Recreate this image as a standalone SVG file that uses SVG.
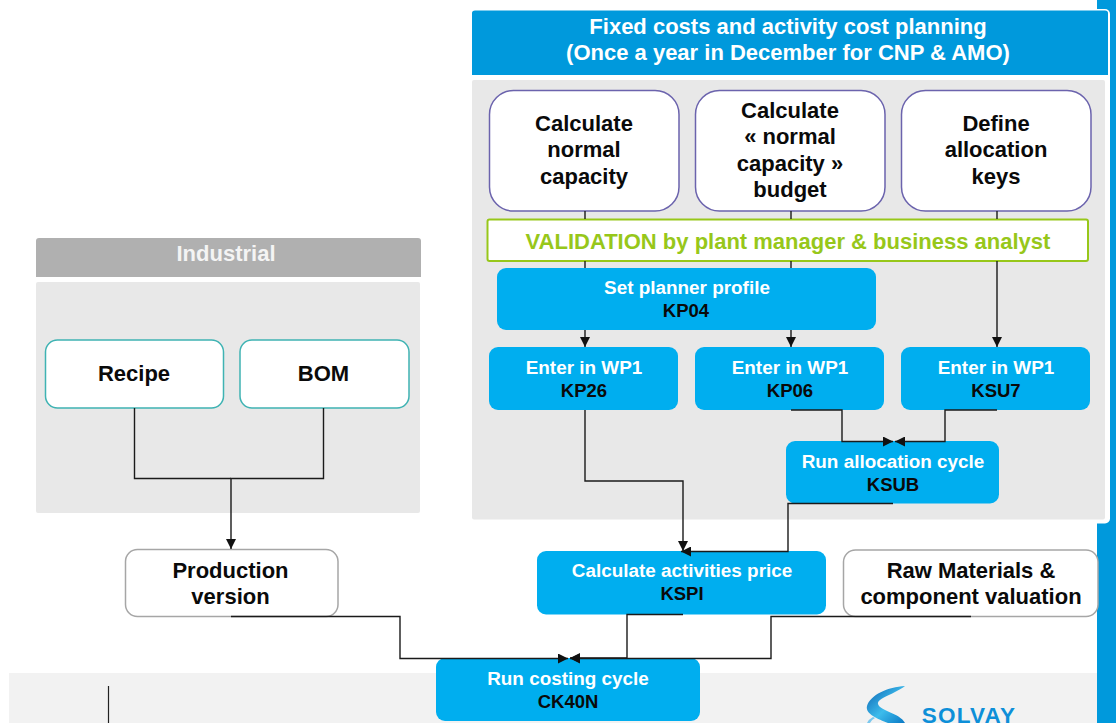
<svg xmlns="http://www.w3.org/2000/svg" width="1116" height="723" viewBox="0 0 1116 723">
<style>
text{font-family:"Liberation Sans",Arial,sans-serif;font-weight:700;text-anchor:middle}
.k{fill:#0a0a0a;font-size:22px}
.h{font-size:22px}
.w{fill:#fff;font-size:18.900px}
.c{fill:#0a0a0a;font-size:18.500px}
.b{fill:#00aeef}
.wb{fill:#fff;stroke:#6b63ad;stroke-width:1.500}
.tb{fill:#fff;stroke:#3fb3b3;stroke-width:1.500}
.gb{fill:#fff;stroke:#a6a6a6;stroke-width:1.500}
.con{fill:none;stroke:#1a1a1a;stroke-width:1.400}
</style>
<defs>
<marker id="a" markerWidth="11" markerHeight="10" refX="10" refY="5" orient="auto" markerUnits="userSpaceOnUse"><path d="M0 0L10 5L0 10Z" fill="#111"/></marker>
<linearGradient id="sw" x1="0" y1="0" x2="1" y2="1"><stop offset="0" stop-color="#0a5fb0"/><stop offset=".55" stop-color="#3dbcec"/><stop offset="1" stop-color="#0a78c4"/></linearGradient>
</defs>
<rect x="1097" y="0" width="19" height="723" fill="#0099dc"/>
<rect x="9" y="673" width="1088" height="50" fill="#f2f2f2"/>
<path d="M108.500 686V723" stroke="#222" stroke-width="1.200" fill="none"/>
<g id="panel-fixed">
<rect x="470" y="9" width="640" height="514.500" rx="5" fill="#fff"/>
<rect x="472" y="80" width="633" height="439.500" rx="2" fill="#e8e8e8"/>
<path d="M472 75V13Q472 10.500 475 10.500H1105Q1108 10.500 1108 13V75Z" fill="#0099dc"/>
<text class="h" x="788" y="34" fill="#fff">Fixed costs and activity cost planning</text>
<text class="h" x="788" y="60" fill="#fff">(Once a year in December for CNP &amp; AMO)</text>
</g>
<g id="panel-industrial">
<rect x="36" y="282" width="384" height="231" rx="2" fill="#e8e8e8"/>
<path d="M36 277V241Q36 238 39 238H418Q421 238 421 241V277Z" fill="#b0b0b0"/>
<text class="h" x="226" y="261" fill="#f4f4f4">Industrial</text>
</g>
<g id="n-capacity"><rect class="wb" x="489.500" y="90.500" width="189.500" height="120.500" rx="24"/><text class="k" x="584" y="131">Calculate</text><text class="k" x="584" y="157">normal</text><text class="k" x="584" y="184">capacity</text></g>
<g id="n-budget"><rect class="wb" x="695.500" y="90.500" width="189.500" height="120.500" rx="24"/><text class="k" x="790" y="118">Calculate</text><text class="k" x="790" y="144">« normal</text><text class="k" x="790" y="171">capacity »</text><text class="k" x="790" y="197">budget</text></g>
<g id="n-keys"><rect class="wb" x="901.500" y="90.500" width="189.500" height="120.500" rx="24"/><text class="k" x="996" y="131">Define</text><text class="k" x="996" y="157">allocation</text><text class="k" x="996" y="184">keys</text></g>
<g id="n-validation"><rect x="487.500" y="219.500" width="600.500" height="41.500" rx="2" fill="#fff" stroke="#97c71a" stroke-width="2"/><text class="h" x="788" y="249" fill="#97c71a">VALIDATION by plant manager &amp; business analyst</text></g>
<g id="n-kp04"><rect class="b" x="497" y="268" width="379" height="62" rx="9"/><text class="w" x="687" y="294">Set planner profile</text><text class="c" x="686" y="317">KP04</text></g>
<g id="n-kp26"><rect class="b" x="489" y="347" width="189" height="63" rx="9"/><text class="w" x="584" y="374">Enter in WP1</text><text class="c" x="584" y="397">KP26</text></g>
<g id="n-kp06"><rect class="b" x="695" y="347" width="189" height="63" rx="9"/><text class="w" x="790" y="374">Enter in WP1</text><text class="c" x="790" y="397">KP06</text></g>
<g id="n-ksu7"><rect class="b" x="901" y="347" width="189" height="63" rx="9"/><text class="w" x="996" y="374">Enter in WP1</text><text class="c" x="996" y="397">KSU7</text></g>
<g id="n-ksub"><rect class="b" x="786" y="441" width="213" height="62.500" rx="9"/><text class="w" x="893" y="468">Run allocation cycle</text><text class="c" x="893" y="491">KSUB</text></g>
<g id="n-recipe"><rect class="tb" x="45.500" y="340" width="178" height="68" rx="12"/><text class="k" x="134" y="381">Recipe</text></g>
<g id="n-bom"><rect class="tb" x="240" y="340" width="169" height="68" rx="12"/><text class="k" x="323.500" y="381">BOM</text></g>
<g id="n-production"><rect class="gb" x="125.500" y="549.500" width="212.500" height="67" rx="12"/><text class="k" x="230.500" y="578">Production</text><text class="k" x="230.500" y="604">version</text></g>
<g id="n-kspi"><rect class="b" x="537" y="551" width="289" height="63.500" rx="9"/><text class="w" x="682" y="577">Calculate activities price</text><text class="c" x="682" y="600">KSPI</text></g>
<g id="n-raw"><rect class="gb" x="843.500" y="550" width="254.500" height="66.500" rx="12"/><text class="k" x="971" y="578">Raw Materials &amp;</text><text class="k" x="971" y="604">component valuation</text></g>
<g id="n-ck40n"><rect class="b" x="436" y="658" width="264" height="63" rx="9"/><text class="w" x="568" y="685">Run costing cycle</text><text class="c" x="568" y="708">CK40N</text></g>
<g id="connectors" class="con">
<path d="M585 211V219M585 261V268M585 330V347" marker-end="url(#a)"/>
<path d="M791 211V219M791 261V268M791 330V347" marker-end="url(#a)"/>
<path d="M997 211V219M997 261V347" marker-end="url(#a)"/>
<path d="M134.500 408V478.500H231"/>
<path d="M323.500 408V478.500H231V549" marker-end="url(#a)"/>
<path d="M585 410V481H683V551" marker-end="url(#a)"/>
<path d="M791 410H842V441.500H893" marker-end="url(#a)"/>
<path d="M997 410H945V441.500H895" marker-end="url(#a)"/>
<path d="M893 503.500H788V551.500H681" marker-end="url(#a)"/>
<path d="M683 614.500H627V658H570" marker-end="url(#a)"/>
<path d="M971 616.500H771V658.500H570" marker-end="url(#a)"/>
<path d="M231 616.500H400V658.500H568" marker-end="url(#a)"/>
</g>
<g id="logo">
<path d="M905 686C888 687 870 695 867 706C865 714 878 719 888 723H905C900 713 880 711 878 704C877 698 895 694 905 686Z" fill="url(#sw)"/>
<path d="M867 723Q869 719 873 717L875 718Q871 720 870 723Z" fill="#7cc8ee"/>
<text x="969" y="722.500" fill="#0d8fd8" style="font-size:22.500px;letter-spacing:1.200px">SOLVAY</text>
</g>
</svg>
